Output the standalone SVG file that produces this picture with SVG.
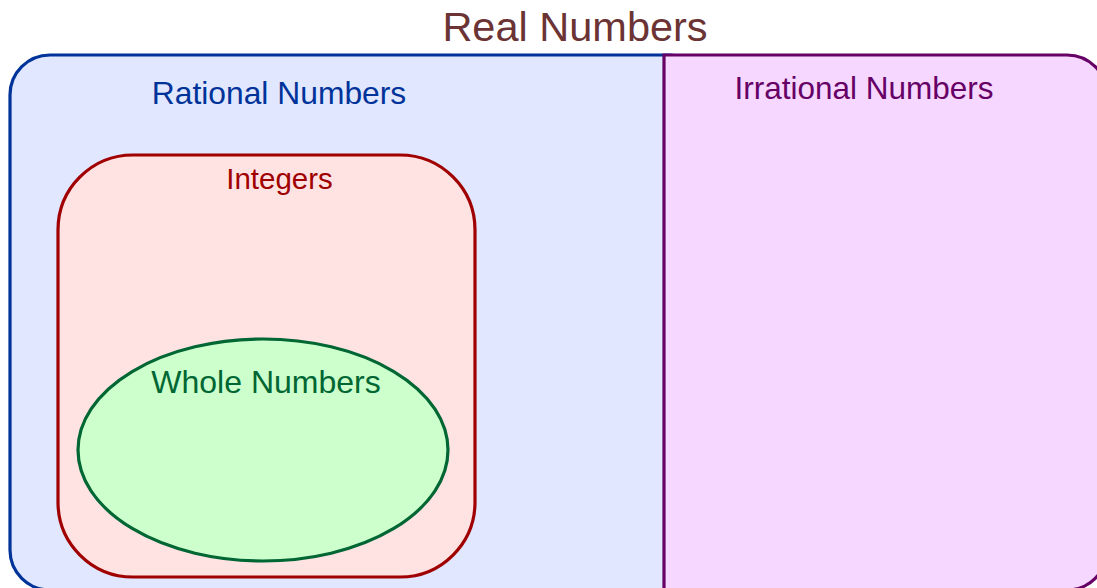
<svg xmlns="http://www.w3.org/2000/svg" width="1097" height="588" viewBox="0 0 1097 588">
  <style>
    text { font-family: "Liberation Sans", Arial, sans-serif; text-anchor: middle; }
    .title { font-size: 41.5px; fill: #6b3333; }
    .lbl { font-size: 31.8px; }
  </style>
  <rect x="0" y="0" width="1097" height="588" fill="#ffffff"/>
  <g id="real-numbers">
    <text class="title" x="575" y="41">Real Numbers</text>
  </g>
  <g id="rational-numbers">
    <rect x="10" y="55" width="700" height="535" rx="40" ry="40" fill="#e0e7ff" stroke="#003399" stroke-width="3.2"/>
    <text class="lbl" x="279" y="104" fill="#003399">Rational Numbers</text>
  </g>
  <g id="irrational-numbers">
    <path d="M664,55 H1067 A40,40 0 0 1 1107,95 V550 A40,40 0 0 1 1067,590 H664 Z" fill="#f5d7ff" stroke="#660066" stroke-width="3.2"/>
    <text class="lbl" x="864" y="99" style="font-size:31.5px" fill="#660066">Irrational Numbers</text>
  </g>
  <g id="integers">
    <rect x="58" y="155" width="417" height="422" rx="75" ry="75" fill="#ffe3e3" stroke="#a00000" stroke-width="3.2"/>
    <text class="lbl" x="279.5" y="189" style="font-size:29.5px" fill="#a00000">Integers</text>
  </g>
  <g id="whole-numbers">
    <ellipse cx="263" cy="450" rx="185" ry="111" fill="#ccffcc" stroke="#006633" stroke-width="3.2"/>
    <text class="lbl" x="266" y="393" style="font-size:32px" fill="#006633">Whole Numbers</text>
  </g>
  <g id="connectors"/>
</svg>
